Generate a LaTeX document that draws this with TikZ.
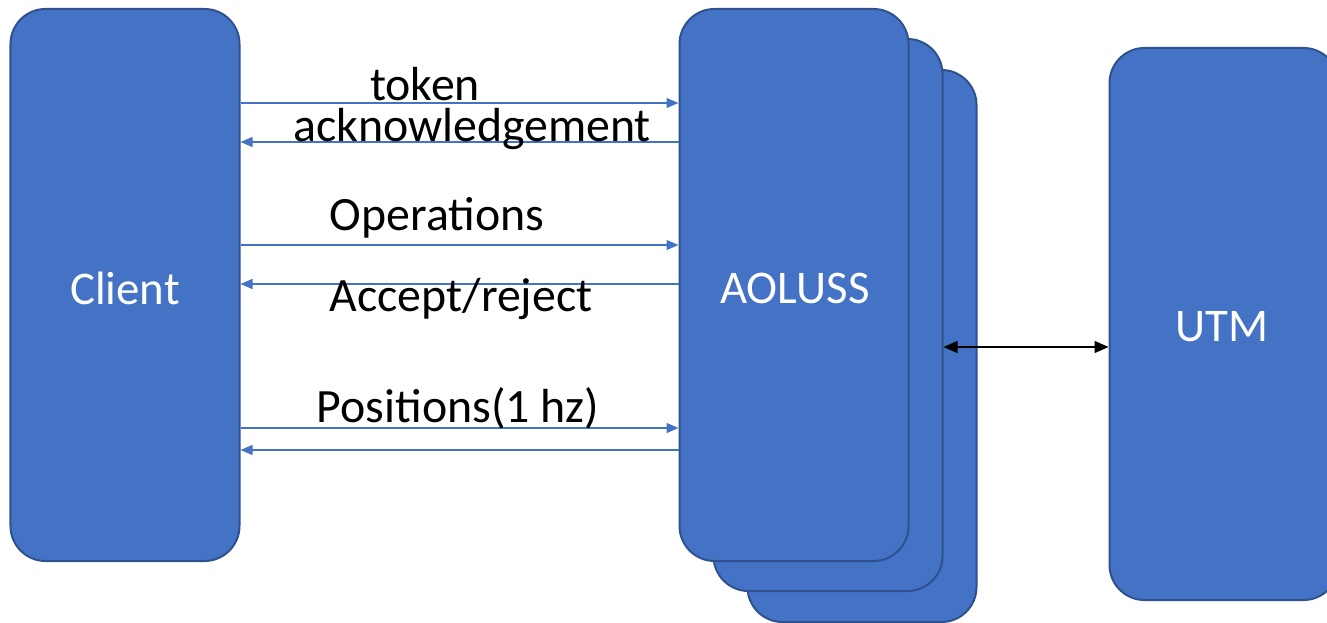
\documentclass[tikz,border=0pt]{standalone}
\usepackage{fontspec}
\setmainfont{Carlito}
\usetikzlibrary{arrows.meta}
\definecolor{boxfill}{HTML}{4472C4}
\definecolor{boxline}{HTML}{2F528F}
\tikzset{
  box/.style={draw=boxline, fill=boxfill, line width=2bp, rounded corners=35bp,
    minimum width=229bp, minimum height=552bp, inner sep=0pt},
  boxlbl/.style={text=white, inner sep=0pt, font=\fontsize{47}{56}\selectfont},
  msg/.style={draw=boxfill, line width=1.3bp, -{Triangle[length=12bp,width=10bp]}},
  lbl/.style={font=\fontsize{48}{58}\selectfont, inner sep=0pt, text=black},
  link/.style={draw=black, line width=1.3bp, {Triangle[length=14bp,width=12bp]}-{Triangle[length=14bp,width=12bp]}}
}
\begin{document}
\begin{tikzpicture}[x=1bp,y=-1bp]
\useasboundingbox (0,0) rectangle (1327,623);
\begin{scope}
\clip (0,0) rectangle (1327,623);
\node[box] (client) at (125,285) {};
\node[box] (aol3) at (862,346) {};
\node[box] (aol2) at (828,315) {};
\node[box] (aol) at (794,285) {};
\node[box] (utm) at (1224,324) {};
\end{scope}
\node[boxlbl] (clientlbl) at (125,288) {Client};
\node[boxlbl] (aollbl) at (795,288) {AOLUSS};
\node[boxlbl] (utmlbl) at (1222,327) {UTM};

\draw[msg] (client.east |- 0,103) -- (aol.west |- 0,103);
\draw[msg] (aol.west |- 0,142) -- (client.east |- 0,142);
\draw[msg] (client.east |- 0,245) -- (aol.west |- 0,245);
\draw[msg] (aol.west |- 0,284) -- (client.east |- 0,284);
\draw[msg] (client.east |- 0,428) -- (aol.west |- 0,428);
\draw[msg] (aol.west |- 0,450) -- (client.east |- 0,450);
\draw[link] (aol2.east |- 0,347) -- (utm.west |- 0,347);

\node[lbl] (l1) at (425,84) {token};
\node[lbl] (l2) at (472,129) {acknowledgement};
\node[lbl] (l3) at (437,218) {Operations};
\node[lbl] (l4) at (461,299) {Accept/reject};
\node[lbl] (l5) at (458,408) {Positions(1 hz)};
\end{tikzpicture}
\end{document}
